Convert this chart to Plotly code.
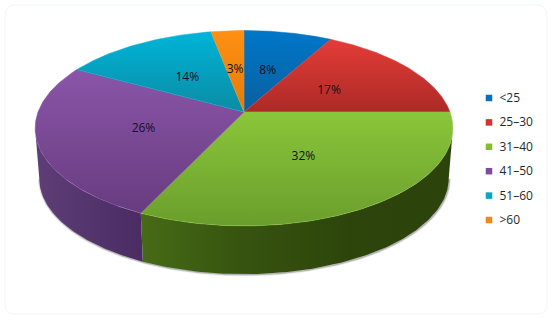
import numpy as np
import plotly.graph_objects as go

# Данные диаграммы
age_groups = ["<25", "25–30", "31–40", "41–50", "51–60", ">60"]
shares = [8, 17, 32, 26, 14, 3]

# Цвета: базовый (легенда), верх и низ градиента на верхней грани
base_colors = ["#0b6fbd", "#d9302e", "#85bc35", "#7f4b9e", "#08a5c8", "#f58518"]
top_light = ["#0077c8", "#e43c38", "#8ac63a", "#8a55a8", "#00b4d8", "#ff9014"]
top_dark = ["#0a5fa0", "#ac2a26", "#6a9e2c", "#683c80", "#0a8ca4", "#e47a08"]

# Цвета боковой стенки (слева направо), только видимые сектора
wall_colors = {2: ["#466b16", "#36530f", "#2d450b", "#2c440b"], 3: ["#5f3e78", "#4a2b62"]}

# Геометрия псевдо-3D: перспективная проекция круга в пиксели
CX, CY = 244, 112
RX, RY = 206, 95
PERSP = 0.166
DEPTH = 50.5
BOTTOM_SCALE = 0.98


def project(theta, r=1.0, bottom=False):
    # theta считается по часовой стрелке от верхней точки
    u = r * np.sin(theta)
    v = -r * np.cos(theta)
    w = 1 - PERSP * v
    scale = BOTTOM_SCALE if bottom else 1.0
    x = CX + scale * RX * u / w
    y = CY + scale * RY * v / w + (DEPTH if bottom else 0)
    return x, y


fractions = np.array(shares) / sum(shares)
edges = np.concatenate([[0], np.cumsum(fractions)]) * 2 * np.pi
mids = (edges[:-1] + edges[1:]) / 2

# Видимая часть стенки ограничена самыми широкими точками эллипса
wall_from = np.arccos(-PERSP)
wall_to = 2 * np.pi - wall_from

fig = go.Figure()

# Мягкая тень под нижним краем
arc = np.linspace(wall_from, wall_to, 240)
sx, sy = project(arc, bottom=True)
for width, alpha in [(4, 0.08), (2.5, 0.16), (1.5, 0.30)]:
    fig.add_trace(go.Scatter(x=sx + 0.5, y=sy + 0.5, mode="lines",
                             line=dict(color=f"rgba(90,90,90,{alpha})", width=width),
                             hoverinfo="skip", showlegend=False))

# Боковые стенки
for i, stops in wall_colors.items():
    a = np.linspace(max(edges[i], wall_from), min(edges[i + 1], wall_to), 120)
    tx, ty = project(a)
    bx, by = project(a, bottom=True)
    scale = [[k / (len(stops) - 1), c] for k, c in enumerate(stops)]
    fig.add_trace(go.Scatter(x=np.concatenate([tx, bx[::-1]]),
                             y=np.concatenate([ty, by[::-1]]),
                             mode="lines", fill="toself", line=dict(width=0),
                             fillgradient=dict(type="horizontal", colorscale=scale),
                             hoverinfo="skip", showlegend=False))

# Верхняя грань (0 в градиенте - низ сектора)
for i in range(len(shares)):
    a = np.linspace(edges[i], edges[i + 1], 120)
    ax, ay = project(a)
    fig.add_trace(go.Scatter(x=np.concatenate([[CX], ax, [CX]]),
                             y=np.concatenate([[CY], ay, [CY]]),
                             mode="lines", fill="toself",
                             line=dict(width=0.5, color=top_light[i]),
                             fillgradient=dict(type="vertical",
                                               colorscale=[[0, top_dark[i]], [1, top_light[i]]]),
                             hoverinfo="skip", showlegend=False))

# Подписи процентов (чуть ниже геометрического центра текста)
lx, ly = project(mids, r=0.5)
fig.add_trace(go.Scatter(x=lx, y=ly + 2, mode="text",
                         text=[f"{s}%" for s in shares],
                         textposition="middle center",
                         textfont=dict(family="Open Sans", size=12, color="#15101f"),
                         hoverinfo="skip", showlegend=False))

# Легенда
legend_y = 98 + 24.4 * np.arange(len(age_groups))
fig.add_trace(go.Scatter(x=[489] * len(age_groups), y=legend_y, mode="markers",
                         marker=dict(symbol="square", size=6.5, color=base_colors),
                         hoverinfo="skip", showlegend=False))
fig.add_trace(go.Scatter(x=[499.5] * len(age_groups), y=legend_y + 1, mode="text",
                         text=age_groups, textposition="middle right",
                         textfont=dict(family="Open Sans", size=12, color="#1f2a30"),
                         hoverinfo="skip", showlegend=False))

fig.update_layout(
    width=550,
    height=318,
    autosize=False,
    margin=dict(l=0, r=0, t=0, b=0),
    paper_bgcolor="white",
    plot_bgcolor="white",
    xaxis=dict(range=[0, 550], visible=False, fixedrange=True),
    yaxis=dict(range=[318, 0], visible=False, fixedrange=True),
    showlegend=False,
    shapes=[dict(type="path", xref="x", yref="y", layer="below",
                 path="M 15 5 L 537 5 Q 547 5 547 15 L 547 304 Q 547 314 537 314 "
                      "L 15 314 Q 5 314 5 304 L 5 15 Q 5 5 15 5 Z",
                 line=dict(color="#f0f6f7", width=1))],
)

# Убирает стандартный отступ body, чтобы картинка встала в окно 550x318
fig.write_html("out.html", config={"displayModeBar": False},
               post_script="document.body.style.margin='0';document.documentElement.style.overflow='hidden';")
